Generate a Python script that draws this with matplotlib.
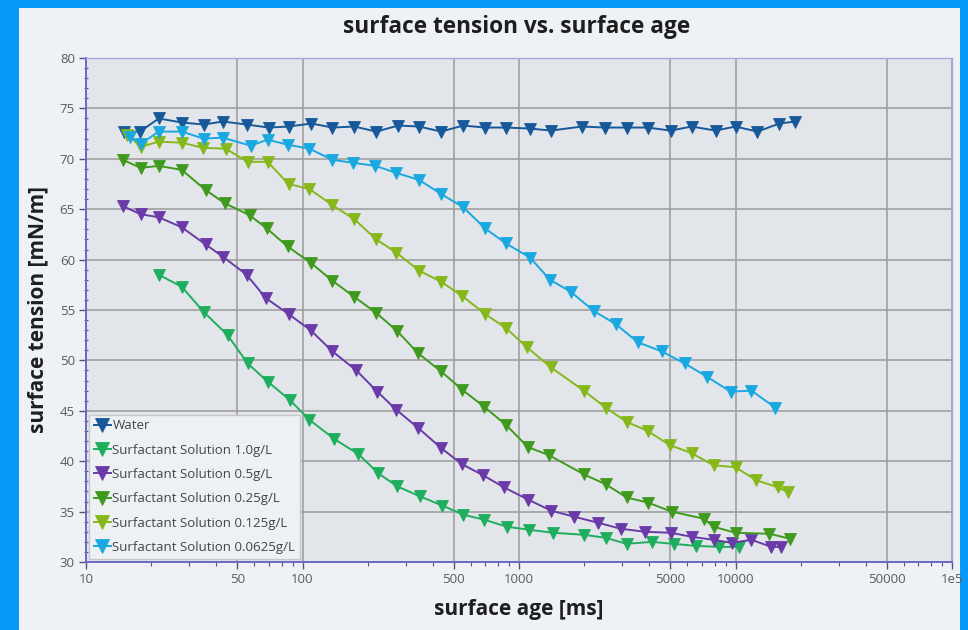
import matplotlib
matplotlib.use('Agg')
import matplotlib.pyplot as plt
from matplotlib.patches import Rectangle
from matplotlib.ticker import FixedLocator, MultipleLocator, NullFormatter

plt.rcParams['font.family'] = ['Open Sans', 'DejaVu Sans']

# surface age [ms] and surface tension [mN/m]
water_age = [15.0, 17.7, 21.7, 27.7, 35.0, 42.8, 55.2, 69.7, 86.2, 110, 137.5, 173.6, 219.3, 277,
             346, 437, 552, 697, 871, 1124, 1404, 1951, 2491, 3145, 3930, 5018, 6271, 8088,
             10000, 12630, 15950, 18900]
water_tension = [72.7, 72.7, 74.0, 73.6, 73.4, 73.7, 73.4, 73.1, 73.2, 73.5, 73.1, 73.2, 72.7, 73.3,
                 73.2, 72.7, 73.3, 73.1, 73.1, 73.0, 72.8, 73.2, 73.1, 73.1, 73.1, 72.8, 73.2, 72.8,
                 73.2, 72.7, 73.5, 73.7]

s100_age = [21.7, 27.7, 35.0, 45.1, 55.8, 69.0, 87.1, 107.7, 140.4, 181.2, 224, 274, 350, 442,
            552, 690, 881, 1112, 1435, 1993, 2518, 3145, 4102, 5180, 6542, 8352, 10433]
s100_tension = [58.5, 57.3, 54.8, 52.5, 49.7, 47.9, 46.1, 44.1, 42.2, 40.7, 38.8, 37.5, 36.5, 35.6,
                34.7, 34.2, 33.5, 33.2, 32.9, 32.7, 32.4, 31.8, 32.0, 31.8, 31.6, 31.5, 31.5]

s050_age = [14.8, 17.9, 21.7, 27.7, 35.7, 42.8, 55.2, 67.5, 86.2, 108.9, 137.5, 177.4, 221.6, 271.2,
            342.3, 437, 546, 683, 853, 1100, 1404, 1792, 2313, 2951, 3807, 5018, 6271, 7919,
            9585, 11850, 14650, 16290]
s050_tension = [65.3, 64.5, 64.2, 63.2, 61.5, 60.3, 58.5, 56.2, 54.6, 53.0, 50.9, 49.0, 46.9, 45.1,
                43.3, 41.3, 39.7, 38.6, 37.4, 36.2, 35.1, 34.5, 33.9, 33.3, 33.0, 32.9, 32.5, 32.2,
                31.9, 32.2, 31.5, 31.5]

s025_age = [14.8, 17.9, 21.7, 27.7, 35.7, 43.7, 57.0, 68.3, 85.3, 108.9, 137.5, 173.6, 219.3, 274.1,
            342.3, 437, 546, 690, 871, 1100, 1375, 1993, 2518, 3145, 3930, 5072, 7121, 7919,
            10000, 14340, 17930]
s025_tension = [69.9, 69.1, 69.3, 68.9, 66.9, 65.6, 64.4, 63.1, 61.3, 59.7, 57.9, 56.3, 54.7, 52.9,
                50.7, 48.9, 47.1, 45.4, 43.6, 41.4, 40.6, 38.7, 37.7, 36.4, 35.9, 35.0, 34.3, 33.5,
                32.9, 32.8, 32.3]

s0125_age = [15.5, 17.9, 21.7, 27.7, 34.6, 44.2, 55.8, 69.0, 86.2, 107.7, 137.5, 173.6, 219.3, 271,
             346, 437, 546, 697, 871, 1089, 1404, 1993, 2518, 3145, 3930, 4965, 6271, 7919,
             10000, 12500, 15780, 17550]
s0125_tension = [72.4, 71.2, 71.7, 71.6, 71.1, 71.0, 69.7, 69.7, 67.5, 67.0, 65.4, 64.0, 62.0, 60.7,
                 58.9, 57.8, 56.4, 54.6, 53.2, 51.3, 49.3, 47.0, 45.3, 43.9, 43.0, 41.6, 40.8, 39.6,
                 39.4, 38.1, 37.4, 36.9]

s00625_age = [16.0, 17.9, 21.7, 27.7, 35.0, 42.8, 57.6, 69.0, 85.3, 107.7, 137.5, 171.8, 217, 271,
              346, 437, 552, 697, 871, 1124, 1390, 1736, 2216, 2799, 3535, 4560, 5821, 7352,
              9484, 11850, 15290]
s00625_tension = [72.2, 71.5, 72.7, 72.7, 72.0, 72.1, 71.3, 71.9, 71.4, 71.0, 69.9, 69.6, 69.3, 68.6,
                  67.9, 66.5, 65.2, 63.1, 61.6, 60.2, 58.0, 56.8, 54.9, 53.6, 51.8, 50.9, 49.7, 48.4,
                  46.9, 47.0, 45.3]

labels = ['Water', 'Surfactant Solution 1.0g/L', 'Surfactant Solution 0.5g/L',
          'Surfactant Solution 0.25g/L', 'Surfactant Solution 0.125g/L',
          'Surfactant Solution 0.0625g/L']
colors = ['#17589a', '#1fae5e', '#6a3ba8', '#3f9a1e', '#86b81c', '#1aa8e0']
ages = [water_age, s100_age, s050_age, s025_age, s0125_age, s00625_age]
tensions = [water_tension, s100_tension, s050_tension, s025_tension, s0125_tension, s00625_tension]

x_ticks = [10, 50, 100, 500, 1000, 5000, 10000, 50000, 100000]
x_tick_labels = ['10', '50', '100', '500', '1000', '5000', '10000', '50000', '1e5']

fig = plt.figure(figsize=(9.68, 6.30), dpi=100)
fig.patch.set_facecolor('#0898f8')
fig.patches.append(Rectangle((19 / 968, 0), (960 - 19) / 968, (630 - 8) / 630,
                             transform=fig.transFigure, facecolor='#eef2f6',
                             edgecolor='none', zorder=-10))

ax = fig.add_axes([86 / 968, (630 - 562) / 630, (952 - 86) / 968, (562 - 58) / 630])
ax.set_facecolor('#e2e6ea')

for age, tension, label, color in zip(ages, tensions, labels, colors):
    ax.plot(age, tension, color=color, label=label, marker='v', markersize=8.5,
            linewidth=1.4, markeredgewidth=0.6)

ax.set_xscale('log')
ax.set_xlim(10, 100000)
ax.set_ylim(30, 80)

ax.xaxis.set_major_locator(FixedLocator(x_ticks))
ax.set_xticklabels(x_tick_labels)
minors = [k * 10 ** d for d in range(1, 5) for k in range(2, 10) if k != 5]
ax.xaxis.set_minor_locator(FixedLocator(minors))
ax.xaxis.set_minor_formatter(NullFormatter())
ax.yaxis.set_major_locator(MultipleLocator(5))
ax.yaxis.set_minor_locator(MultipleLocator(1))

ax.grid(which='major', color='#a0a0a0', linewidth=1.2)
ax.set_axisbelow(True)

ax.tick_params(which='major', direction='out', length=5, width=1, color='#555577',
               labelsize=9.5, labelcolor='#5a5a5a', pad=3)
ax.tick_params(which='minor', direction='inout', length=3, width=0.8, color='#555577')
ax.tick_params(axis='x', which='minor', direction='out', length=3)

for side in ['left', 'bottom']:
    ax.spines[side].set_color('#6a6ac8')
    ax.spines[side].set_linewidth(1.4)
for side in ['top', 'right']:
    ax.spines[side].set_color('#a8a8e0')
    ax.spines[side].set_linewidth(1.0)

fig.text(517 / 968, 1 - 27 / 630, 'surface tension vs. surface age', ha='center', va='center',
         fontsize=16.3, fontweight='bold', color='#1e1e1e')
ax.set_xlabel('surface age [ms]', fontsize=15, fontweight='bold', color='#1e1e1e', labelpad=9)
ax.set_ylabel('surface tension [mN/m]', fontsize=15, fontweight='bold', color='#1e1e1e', labelpad=8)

leg = ax.legend(loc='lower left', bbox_to_anchor=(0.0, 0.0), fontsize=9.5, frameon=True,
                fancybox=False, framealpha=1, facecolor='#eef1f4', edgecolor='#c8c8c8',
                handlelength=1.3, handletextpad=0.1, labelspacing=0.86, borderpad=0.35,
                borderaxespad=0.25, markerscale=1.25)
for text in leg.get_texts():
    text.set_color('#444444')

fig.savefig('out.png', dpi=100, facecolor=fig.get_facecolor())
